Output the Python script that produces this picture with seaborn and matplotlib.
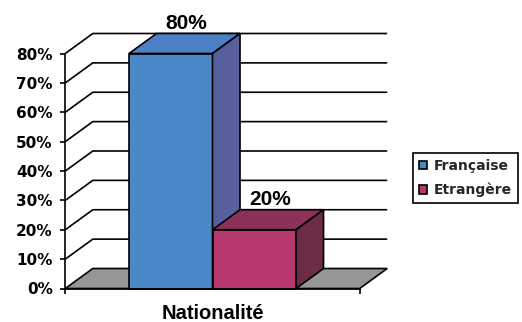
import matplotlib
matplotlib.use("Agg")
import matplotlib.pyplot as plt
import pandas as pd
import seaborn as sns
from matplotlib.patches import Polygon, Patch

# Data
axe = "Nationalité"
groupes = ["Française", "Etrangère"]
parts = [0.80, 0.20]
y_ticks = [0.0, 0.1, 0.2, 0.3, 0.4, 0.5, 0.6, 0.7, 0.8]
y_labels = ["0%", "10%", "20%", "30%", "40%", "50%", "60%", "70%", "80%"]

# Colours: front, top and side faces of each box
face_colors = ["#4a88c7", "#b6386f"]
top_colors = ["#4d80c5", "#8c3158"]
side_colors = ["#575f9c", "#6b2c47"]
floor_color = "#969696"

LW = 1.2

sns.set_theme(style="white")
plt.rcParams["font.family"] = ["Liberation Sans", "DejaVu Sans"]

W, H = 522, 322
fig = plt.figure(figsize=(W / 100, H / 100), dpi=100)
fig.patch.set_facecolor("white")
ax = fig.add_axes([65.3 / W, 33.5 / H, 294.4 / W, 235 / H])

df = pd.DataFrame({"axe": [axe] * len(groupes), "groupe": groupes, "part": parts})
sns.barplot(data=df, x="axe", y="part", hue="groupe", hue_order=groupes,
            palette=face_colors, saturation=1, width=0.8, dodge=True,
            edgecolor="black", linewidth=LW, errorbar=None, legend=False, ax=ax)

x0, x1 = -0.705, 0.705
ax.set_xticks([x0, x1], labels=["", ""])
ax.set_xlim(x0, x1)
ax.set_ylim(0, 0.8)

# Depth of the 3D effect, expressed in data units
pos = ax.get_position()
ax_w_px = pos.width * W
ax_h_px = pos.height * H
dx = 27.5 / (ax_w_px / (x1 - x0))
dy = 20.0 / (ax_h_px / 0.8)

# Back wall gridlines with their side-wall diagonals
for t in y_ticks[1:]:
    ax.plot([x0, x0 + dx, x1 + dx], [t, t + dy, t + dy], color="black",
            lw=LW, clip_on=False, zorder=0.5, solid_capstyle="butt")

# Floor
ax.add_patch(Polygon([(x0, 0), (x1, 0), (x1 + dx, dy), (x0 + dx, dy)],
                     closed=True, facecolor=floor_color, edgecolor="black",
                     lw=LW, clip_on=False, zorder=1))

# Boxes: front from seaborn, plus top and side faces
for i, container in enumerate(ax.containers):
    for bar in container:
        bx = bar.get_x()
        bw = bar.get_width()
        bh = bar.get_height()
        z = 2 + i * 0.1
        bar.set_zorder(z)
        bar.set_clip_on(False)
        ax.add_patch(Polygon([(bx, bh), (bx + bw, bh), (bx + bw + dx, bh + dy), (bx + dx, bh + dy)],
                             closed=True, facecolor=top_colors[i], edgecolor="black",
                             lw=LW, clip_on=False, zorder=z + 0.01))
        ax.add_patch(Polygon([(bx + bw, 0), (bx + bw, bh), (bx + bw + dx, bh + dy), (bx + bw + dx, dy)],
                             closed=True, facecolor=side_colors[i], edgecolor="black",
                             lw=LW, clip_on=False, zorder=z + 0.01))
        ax.annotate(f"{bh:.0%}", xy=(bx + bw / 2 + dx / 2, bh + dy), xytext=(1.5, 3.5),
                    textcoords="offset points", ha="center", va="baseline",
                    fontsize=15, fontweight="bold", color="black",
                    annotation_clip=False, zorder=5)

# Axes styling
ax.set_yticks(y_ticks, labels=y_labels, fontfamily="DejaVu Sans",
              fontweight="bold", fontsize=11)
ax.tick_params(axis="y", direction="out", length=3.6, width=LW, pad=5.5,
               colors="black", left=True)
ax.tick_params(axis="x", direction="out", length=3.6, width=LW, colors="black",
               bottom=True)
for side in ("top", "right"):
    ax.spines[side].set_visible(False)
for side in ("left", "bottom"):
    ax.spines[side].set_color("black")
    ax.spines[side].set_linewidth(LW)
    ax.spines[side].set_zorder(3)
ax.set_ylabel("")
ax.set_xlabel(axe, fontsize=14.5, fontweight="bold", color="black")
ax.xaxis.set_label_coords(0.5, -0.064)
ax.set_facecolor("white")

# Legend
handles = [Patch(facecolor=c, edgecolor="black", lw=LW) for c in face_colors]
leg = fig.legend(handles, groupes, loc="upper left",
                 bbox_to_anchor=(413 / W, 1 - 153 / H),
                 prop={"family": "DejaVu Sans", "weight": "bold", "size": 10},
                 frameon=True, fancybox=False, edgecolor="black", framealpha=1,
                 borderpad=0.43, handlelength=0.6, handleheight=0.6,
                 handletextpad=0.45, labelspacing=0.7, borderaxespad=0)
leg.get_frame().set_linewidth(LW)

fig.savefig("out.png", dpi=100, facecolor="white")
